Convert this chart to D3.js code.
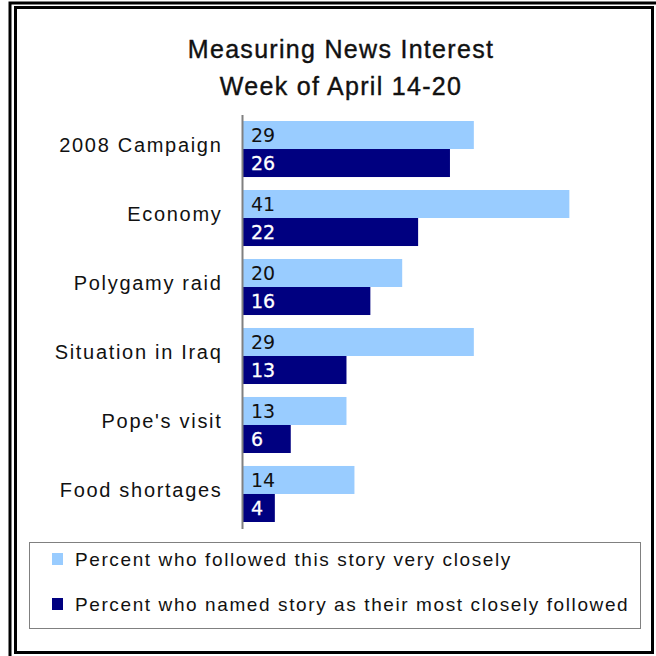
<!DOCTYPE html>
<html>
<head>
<meta charset="utf-8">
<script src="https://cdn.jsdelivr.net/npm/d3@7"></script>
<style>
  body { margin: 0; background: #fff; }
  svg text { font-family: "Liberation Sans", Arial, sans-serif; }
</style>
</head>
<body>
<div id="chart"></div>
<script>
const categories = ["2008 Campaign", "Economy", "Polygamy raid", "Situation in Iraq", "Pope's visit", "Food shortages"];
const followedClosely = [29, 41, 20, 29, 13, 14];
const mostClosely = [26, 22, 16, 13, 6, 4];
const seriesNames = ["Percent who followed this story very closely", "Percent who named story as their most closely followed"];
const seriesColors = ["#99ccff", "#000080"];
const titleLines = ["Measuring News Interest", "Week of April 14-20"];

const W = 656, H = 656;
const svg = d3.select("#chart").append("svg").attr("width", W).attr("height", H);

// double frame
svg.append("rect").attr("x", 10).attr("y", 3).attr("width", 660).attr("height", 660)
  .attr("fill", "none").attr("stroke", "#000").attr("stroke-width", 3);
svg.append("rect").attr("x", 15.5).attr("y", 7.5).attr("width", 637).attr("height", 645)
  .attr("fill", "#fff").attr("stroke", "#000").attr("stroke-width", 3);

// title
svg.selectAll(".title").data(titleLines).enter().append("text")
  .attr("x", 341).attr("y", (d, i) => 58 + i * 37)
  .attr("text-anchor", "middle").attr("font-size", 25)
  .attr("letter-spacing", 1.3)
  .attr("fill", "#111").attr("stroke", "#111").attr("stroke-width", 0.4)
  .text(d => d);

const y = d3.scaleBand().domain(categories).range([115, 528]).paddingInner(0.188).paddingOuter(0.087);
const sub = d3.scaleBand().domain([0, 1]).range([0, y.bandwidth()]);
const x = d3.scaleLinear().domain([0, 50]).range([243, 641]);

const rows = categories.map((c, i) => ({ cat: c, vals: [followedClosely[i], mostClosely[i]] }));

const g = svg.selectAll(".grp").data(rows).enter().append("g")
  .attr("transform", d => `translate(0,${y(d.cat)})`);

g.selectAll("rect").data(d => d.vals).enter().append("rect")
  .attr("x", x(0)).attr("y", (d, i) => sub(i))
  .attr("width", d => x(d) - x(0)).attr("height", sub.bandwidth())
  .attr("fill", (d, i) => seriesColors[i]);

g.selectAll(".val").data(d => d.vals).enter().append("text")
  .attr("x", x(0) + 8).attr("y", (d, i) => sub(i) + sub.bandwidth() / 2)
  .attr("dy", "0.36em")
  .style("font-family", "'DejaVu Sans', Verdana, sans-serif")
  .attr("font-size", 19)
  .attr("fill", (d, i) => i === 1 ? "#fff" : "#111")
  .attr("stroke", (d, i) => i === 1 ? "#fff" : "none").attr("stroke-width", 0.3)
  .text(d => d);

// category labels
svg.selectAll(".cat").data(categories).enter().append("text")
  .attr("x", 222.5).attr("y", d => y(d) + y.bandwidth() / 2 - 4)
  .attr("dy", "0.35em").attr("text-anchor", "end")
  .attr("font-size", 20).attr("letter-spacing", 1.7)
  .attr("fill", "#111").text(d => d);

// axis line
svg.append("line").attr("x1", 242.5).attr("x2", 242.5).attr("y1", 115).attr("y2", 529)
  .attr("stroke", "#808080").attr("stroke-width", 2);

// legend
svg.append("rect").attr("x", 29.5).attr("y", 542.5).attr("width", 611).attr("height", 86)
  .attr("fill", "#fff").attr("stroke", "#808080").attr("stroke-width", 1);
const lg = svg.selectAll(".lg").data(seriesNames).enter().append("g")
  .attr("transform", (d, i) => `translate(52,${553 + i * 45})`);
lg.append("rect").attr("width", 11).attr("height", 12).attr("fill", (d, i) => seriesColors[i]);
lg.append("text").attr("x", 23).attr("y", 6).attr("dy", "0.35em")
  .attr("font-size", 19).attr("letter-spacing", 1.6)
  .attr("fill", "#111").text(d => d);
</script>
</body>
</html>
